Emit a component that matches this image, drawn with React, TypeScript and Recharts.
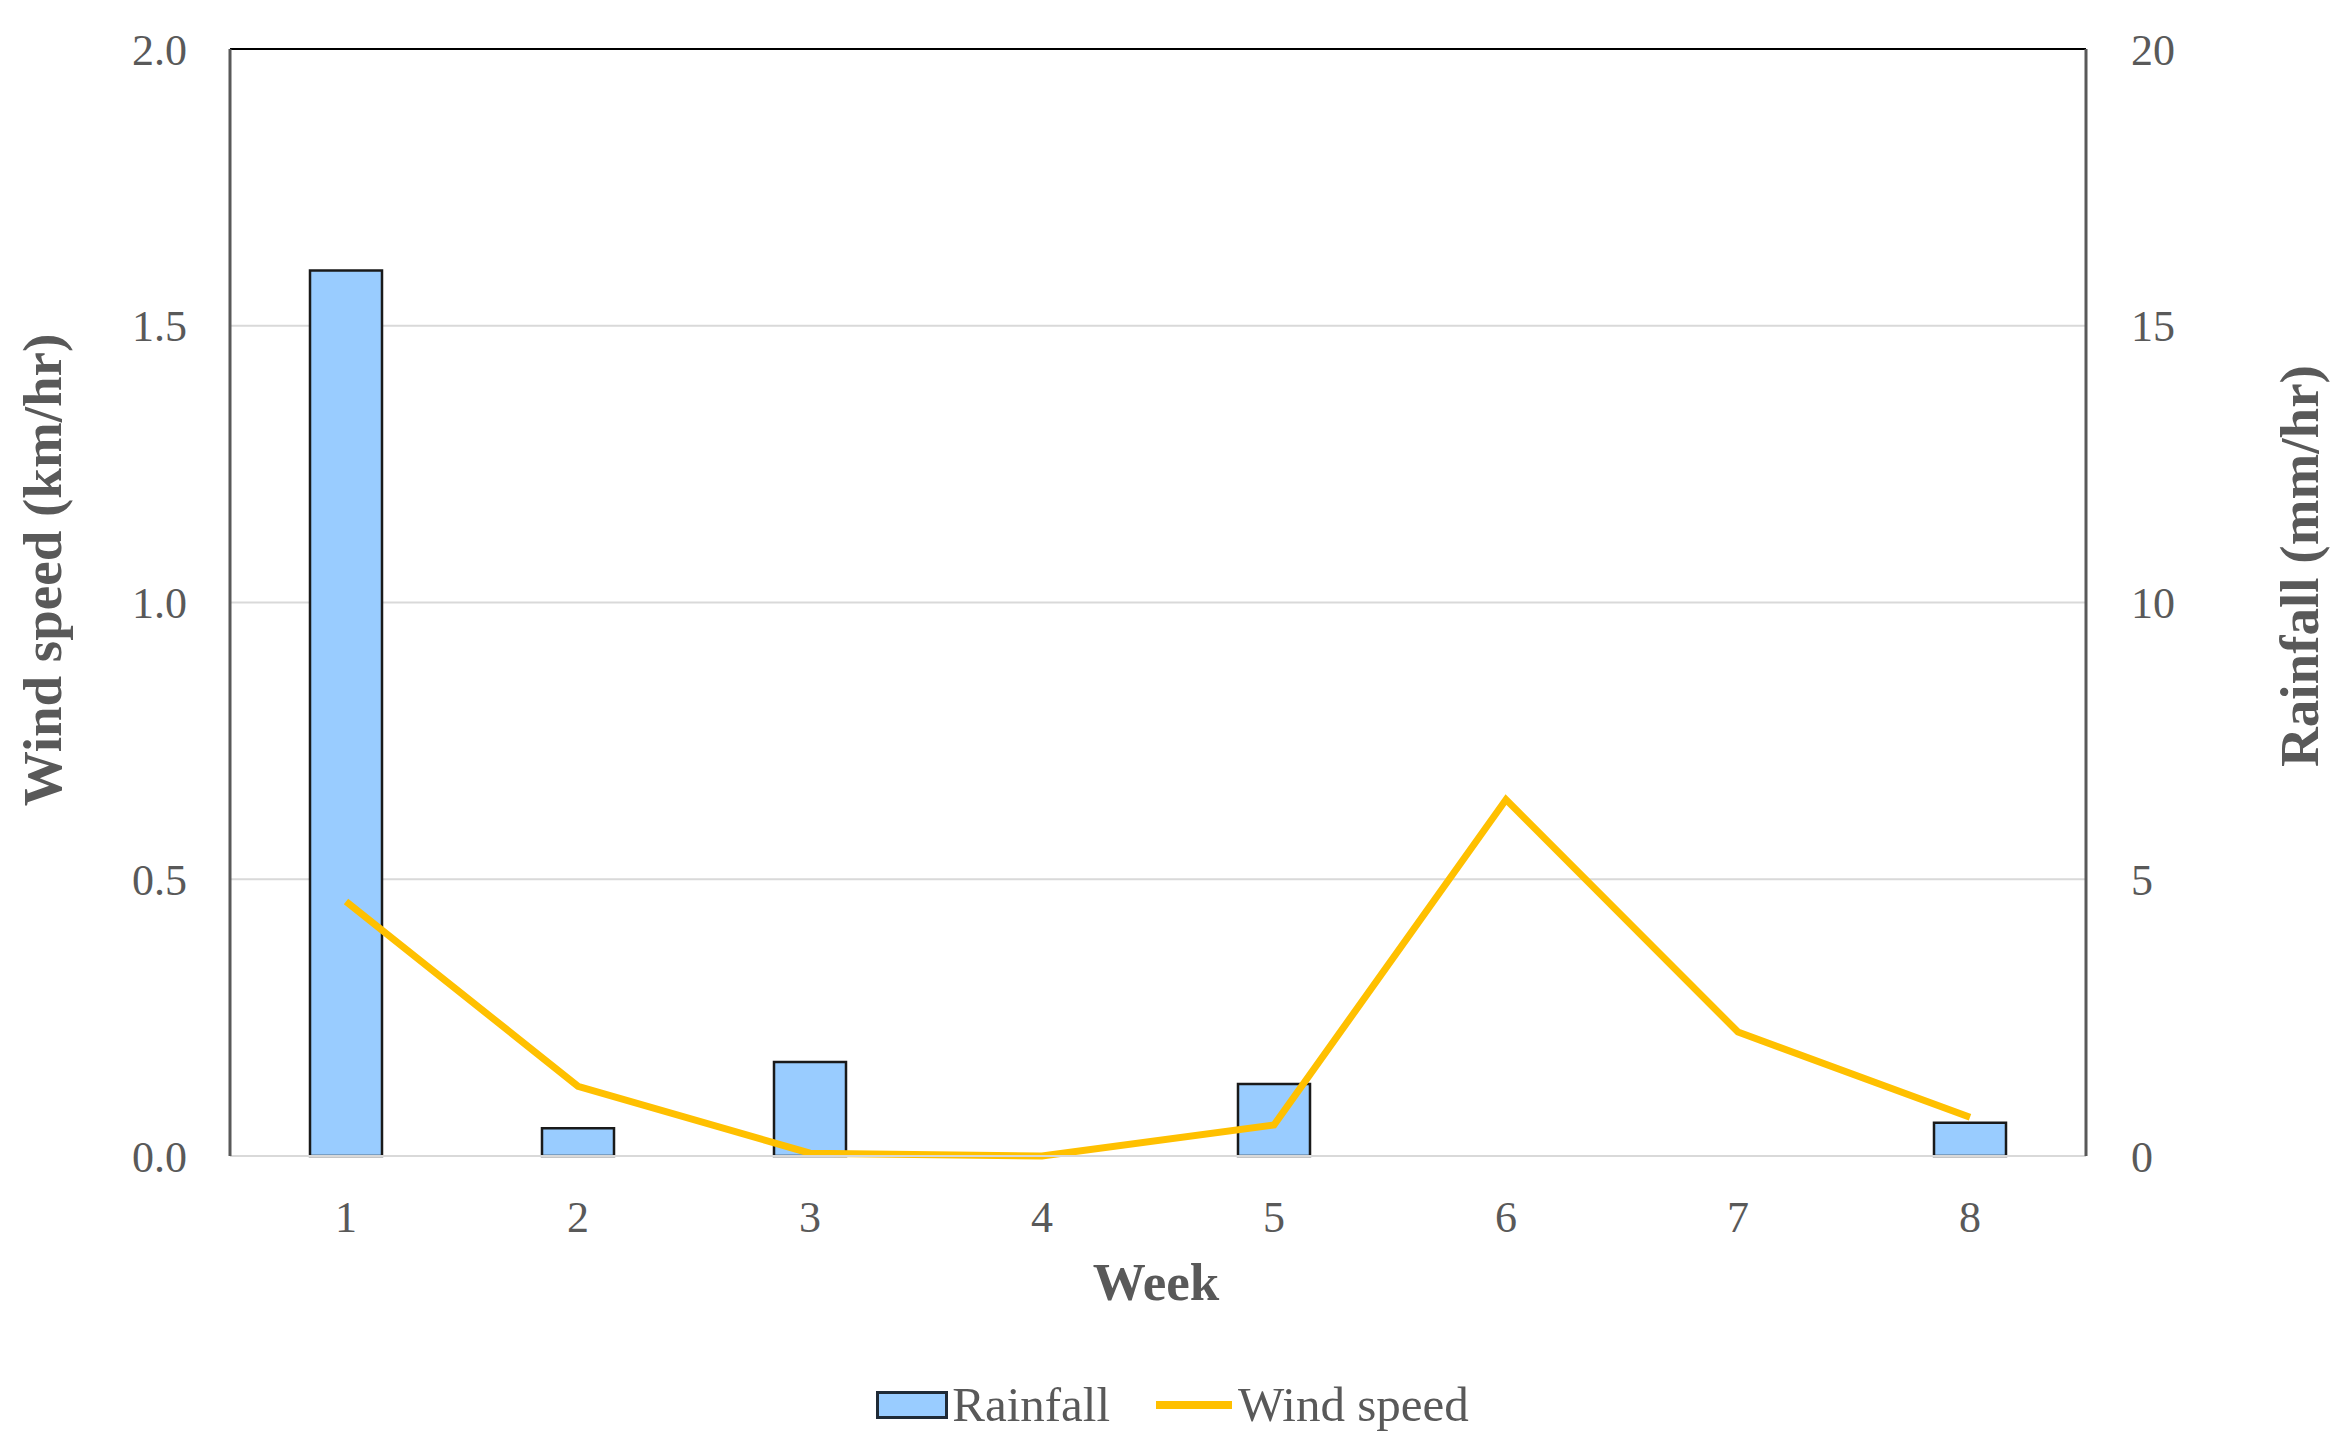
import { ComposedChart, Bar, Line, XAxis, YAxis, CartesianGrid, ReferenceLine, Legend, Label } from 'recharts'

const weeks = ['1', '2', '3', '4', '5', '6', '7', '8']
const rainfall = [16, 0.5, 1.7, 0, 1.3, 0, 0, 0.6]
const windSpeed = [0.46, 0.126, 0.005, 0, 0.056, 0.644, 0.224, 0.07]
const leftTicks = [0, 0.5, 1, 1.5, 2]
const rightTicks = [0, 5, 10, 15, 20]

const data = weeks.map((week, i) => ({
  week,
  rainfall: rainfall[i],
  windSpeed: windSpeed[i],
}))

const FONT = '"Liberation Serif", "DejaVu Serif", serif'
const GREY = '#595959'

const LegendContent = () => (
  <div style={{ display: 'flex', justifyContent: 'center', alignItems: 'center', fontFamily: FONT, fontSize: 49, color: GREY }}>
    <span style={{ display: 'inline-block', width: 66, height: 22, background: '#99CCFF', border: '3px solid #1f2a36', marginRight: 4 }} />
    <span>Rainfall</span>
    <span style={{ display: 'inline-block', width: 76, height: 8, background: '#FFC000', marginLeft: 46, marginRight: 6 }} />
    <span>Wind speed</span>
  </div>
)

export default function App() {
  return (
    <div style={{ position: 'relative', width: 2345, height: 1455, background: '#fff' }}>
      <style>{'body{margin:0}'}</style>
      <ComposedChart
        width={2345}
        height={1455}
        data={data}
        margin={{ top: 49, right: 109, left: 80, bottom: 199 }}
      >
        <CartesianGrid vertical={false} yAxisId="left" stroke="#d9d9d9" strokeWidth={2} />
        <XAxis
          dataKey="week"
          height={100}
          tickLine={false}
          tickSize={0}
          tickMargin={45}
          axisLine={{ stroke: '#d9d9d9', strokeWidth: 2 }}
          tick={{ fill: GREY, fontSize: 44, fontFamily: FONT }}
        >
          <Label
            content={() => (
              <text x={1156} y={1282} textAnchor="middle" dominantBaseline="central" fill={GREY} fontFamily={FONT} fontSize={53} fontWeight="bold">
                Week
              </text>
            )}
          />
        </XAxis>
        <YAxis
          yAxisId="left"
          orientation="left"
          width={150}
          domain={[0, 2]}
          ticks={leftTicks}
          tickFormatter={(v: number) => v.toFixed(1)}
          tickLine={false}
          tickSize={0}
          tickMargin={43}
          axisLine={{ stroke: GREY, strokeWidth: 3 }}
          tick={{ fill: GREY, fontSize: 44, fontFamily: FONT }}
        >
          <Label
            content={() => (
              <text x={42} y={570} transform="rotate(-90 42 570)" textAnchor="middle" dominantBaseline="central" fill={GREY} fontFamily={FONT} fontSize={55} fontWeight="bold">
                Wind speed (km/hr)
              </text>
            )}
          />
        </YAxis>
        <YAxis
          yAxisId="right"
          orientation="right"
          width={150}
          domain={[0, 20]}
          ticks={rightTicks}
          tickLine={false}
          tickSize={0}
          tickMargin={45}
          axisLine={{ stroke: GREY, strokeWidth: 3 }}
          tick={{ fill: GREY, fontSize: 44, fontFamily: FONT }}
        >
          <Label
            content={() => (
              <text x={2299} y={566} transform="rotate(-90 2299 566)" textAnchor="middle" dominantBaseline="central" fill={GREY} fontFamily={FONT} fontSize={55} fontWeight="bold">
                Rainfall (mm/hr)
              </text>
            )}
          />
        </YAxis>
        <ReferenceLine yAxisId="left" y={2} stroke="#000" strokeWidth={2} />
        <Bar
          yAxisId="right"
          dataKey="rainfall"
          name="Rainfall"
          barSize={72}
          fill="#99CCFF"
          stroke="#1a1a1a"
          strokeWidth={2.5}
          isAnimationActive={false}
        />
        <Line
          yAxisId="left"
          type="linear"
          dataKey="windSpeed"
          name="Wind speed"
          stroke="#FFC000"
          strokeWidth={7}
          dot={false}
          activeDot={false}
          isAnimationActive={false}
        />
        <Legend
          layout="horizontal"
          verticalAlign="middle"
          align="center"
          content={<LegendContent />}
          wrapperStyle={{ position: 'absolute', left: 0, top: 1376, width: 2345 }}
        />
      </ComposedChart>
    </div>
  )
}
